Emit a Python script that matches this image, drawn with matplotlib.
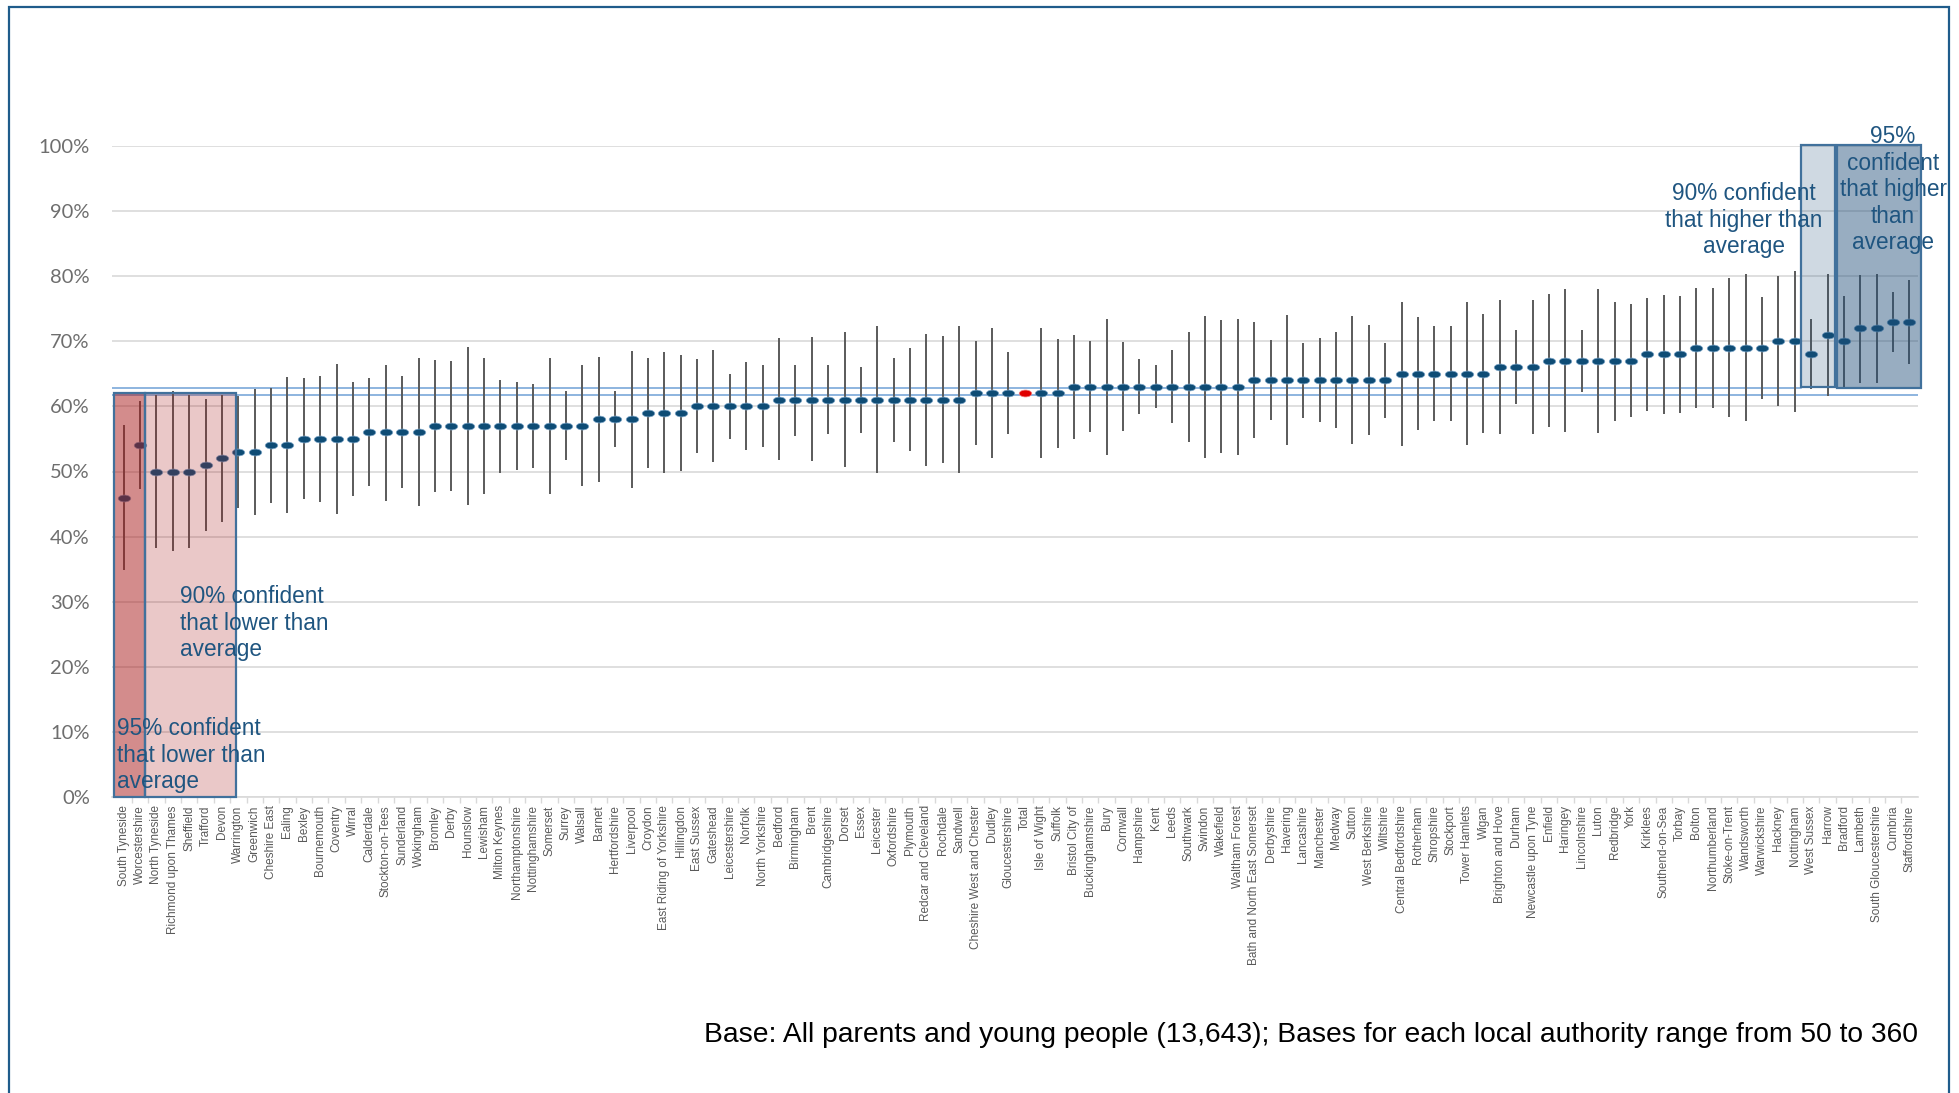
import matplotlib
matplotlib.use('Agg')
import numpy as np
import matplotlib.pyplot as plt
from matplotlib.path import Path
from matplotlib.transforms import Affine2D
from matplotlib.patches import Rectangle
from matplotlib.ticker import FixedLocator

names = ['South Tyneside', 'Worcestershire', 'North Tyneside', 'Richmond upon Thames', 'Sheffield',
         'Trafford', 'Devon', 'Warrington', 'Greenwich', 'Cheshire East', 'Ealing', 'Bexley',
         'Bournemouth', 'Coventry', 'Wirral', 'Calderdale', 'Stockton-on-Tees', 'Sunderland',
         'Wokingham', 'Bromley', 'Derby', 'Hounslow', 'Lewisham', 'Milton Keynes',
         'Northamptonshire', 'Nottinghamshire', 'Somerset', 'Surrey', 'Walsall', 'Barnet',
         'Hertfordshire', 'Liverpool', 'Croydon', 'East Riding of Yorkshire', 'Hillingdon',
         'East Sussex', 'Gateshead', 'Leicestershire', 'Norfolk', 'North Yorkshire', 'Bedford',
         'Birmingham', 'Brent', 'Cambridgeshire', 'Dorset', 'Essex', 'Leicester', 'Oxfordshire',
         'Plymouth', 'Redcar and Cleveland', 'Rochdale', 'Sandwell', 'Cheshire West and Chester',
         'Dudley', 'Gloucestershire', 'Total', 'Isle of Wight', 'Suffolk', 'Bristol City of',
         'Buckinghamshire', 'Bury', 'Cornwall', 'Hampshire', 'Kent', 'Leeds', 'Southwark',
         'Swindon', 'Wakefield', 'Waltham Forest', 'Bath and North East Somerset', 'Derbyshire',
         'Havering', 'Lancashire', 'Manchester', 'Medway', 'Sutton', 'West Berkshire', 'Wiltshire',
         'Central Bedfordshire', 'Rotherham', 'Shropshire', 'Stockport', 'Tower Hamlets', 'Wigan',
         'Brighton and Hove', 'Durham', 'Newcastle upon Tyne', 'Enfield', 'Haringey',
         'Lincolnshire', 'Luton', 'Redbridge', 'York', 'Kirklees', 'Southend-on-Sea', 'Torbay',
         'Bolton', 'Northumberland', 'Stoke-on-Trent', 'Wandsworth', 'Warwickshire', 'Hackney',
         'Nottingham', 'West Sussex', 'Harrow', 'Bradford', 'Lambeth', 'South Gloucestershire',
         'Cumbria', 'Staffordshire']

pct = [46, 54, 50, 50, 50, 51, 52, 53, 53, 54, 54, 55, 55, 55, 55, 56, 56, 56,
       56, 57, 57, 57, 57, 57, 57, 57, 57, 57, 57, 58, 58, 58, 59, 59, 59,
       60, 60, 60, 60, 60, 61, 61, 61, 61, 61, 61, 61, 61, 61, 61, 61, 61,
       62, 62, 62, 62, 62, 62, 63, 63, 63, 63, 63, 63, 63, 63, 63, 63, 63,
       64, 64, 64, 64, 64, 64, 64, 64, 64, 65, 65, 65, 65, 65, 65, 66, 66, 66,
       67, 67, 67, 67, 67, 67, 68, 68, 68, 69, 69, 69, 69, 69, 70, 70, 68, 71,
       70, 72, 72, 73, 73]

lo = [34.8, 47.3, 38.2, 37.8, 38.2, 40.8, 42.2, 44.4, 43.3, 45.2, 43.7, 45.7, 45.3, 43.4, 46.2,
      47.7, 45.5, 47.4, 44.7, 46.9, 47.0, 44.8, 46.5, 49.8, 50.3, 50.6, 46.6, 51.8, 47.8, 48.4,
      53.7, 47.5, 50.5, 49.8, 50.1, 52.8, 51.5, 55.0, 53.3, 53.8, 51.7, 55.5, 51.6, 55.8, 50.7,
      55.9, 49.8, 54.6, 53.1, 50.9, 51.3, 49.7, 54.0, 52.1, 55.8, 61.6, 52.0, 53.6, 55.0, 56.1,
      52.6, 56.2, 58.8, 59.7, 57.5, 54.6, 52.1, 52.9, 52.6, 55.1, 57.9, 54.0, 58.2, 57.6, 56.7,
      54.2, 55.6, 58.2, 53.9, 56.3, 57.8, 57.8, 54.0, 55.9, 55.8, 60.3, 55.8, 56.8, 56.1, 62.2,
      55.9, 57.8, 58.3, 59.3, 58.9, 59.0, 59.7, 59.7, 58.3, 57.7, 61.1, 60.0, 59.2, 62.6, 61.6,
      63.0, 63.6, 63.6, 68.4, 66.5]

hi = [57.1, 60.8, 61.8, 62.3, 61.8, 61.2, 61.8, 61.6, 62.7, 62.8, 64.5, 64.3, 64.6, 66.5, 63.8,
      64.3, 66.4, 64.6, 67.4, 67.1, 67.0, 69.2, 67.5, 64.1, 63.8, 63.5, 67.4, 62.3, 66.3, 67.6,
      62.4, 68.5, 67.5, 68.3, 67.9, 67.3, 68.6, 65.0, 66.8, 66.3, 70.5, 66.4, 70.6, 66.3, 71.4,
      66.1, 72.3, 67.4, 68.9, 71.1, 70.8, 72.3, 70.1, 72.0, 68.3, 62.4, 72.1, 70.4, 71.0, 70.0,
      73.4, 69.9, 67.3, 66.3, 68.6, 71.4, 73.9, 73.2, 73.4, 72.9, 70.2, 74.1, 69.8, 70.5, 71.4,
      73.9, 72.5, 69.8, 76.1, 73.8, 72.3, 72.3, 76.0, 74.2, 76.3, 71.7, 76.3, 77.3, 78.0, 71.8,
      78.1, 76.1, 75.7, 76.7, 77.1, 76.9, 78.2, 78.2, 79.7, 80.3, 76.8, 80.0, 80.8, 73.4, 80.3,
      76.9, 80.2, 80.3, 77.5, 79.4]

avg_upper = 62.85
avg_lower = 61.7

footer = ('Base: All parents and young people (13,643); '
          'Bases for each local authority range from 50 to 360')

W, H = 1959, 1093
plt.rcParams['font.family'] = ['Liberation Sans', 'DejaVu Sans']

fig = plt.figure(figsize=(W / 100, H / 100), dpi=100)
ax = fig.add_axes([112 / W, 1 - 797 / H, (1918 - 112) / W, (797 - 146) / H])

x = np.arange(len(names))
pct = np.array(pct, dtype=float)
is_total = np.array([n == 'Total' for n in names])

# error bars
ax.vlines(x, lo, hi, color='#5a5a5a', lw=1.4, zorder=3)

# estimate dots (flat ellipse)
ell = Path.unit_circle().transformed(Affine2D().scale(1, 0.55))
ax.plot(x[~is_total], pct[~is_total], ls='none', marker=ell, ms=9, color='#0E4C75',
        mec='#7FA7C9', mew=0.5, zorder=4)
ax.plot(x[is_total], pct[is_total], ls='none', marker=ell, ms=9, color='#E00000',
        mec='#F08080', mew=0.5, zorder=4)

# average band lines
ax.axhline(avg_upper, xmin=0, xmax=(102.35 + 0.71) / (109.52 + 0.71), color='#6FA0D6', lw=1.1, zorder=2)
ax.axhline(avg_lower, color='#6FA0D6', lw=1.1, zorder=2)

# significance boxes
red = (168 / 255, 26 / 255, 26 / 255)
navy = (31 / 255, 78 / 255, 121 / 255)
edge = '#41719C'
ax.add_patch(Rectangle((-0.59, 0), 1.87, 62, fc=red + (0.5,), ec=edge, lw=1.6, zorder=5, clip_on=False))
ax.add_patch(Rectangle((1.28, 0), 5.6, 62, fc=red + (0.24,), ec=edge, lw=1.6, zorder=5, clip_on=False))
ax.add_patch(Rectangle((102.35, 63.0), 2.1, 37.2, fc=navy + (0.21,), ec=edge, lw=1.6, zorder=5, clip_on=False))
ax.add_patch(Rectangle((104.6, 62.8), 5.1, 37.4, fc=navy + (0.46,), ec=edge, lw=1.6, zorder=5, clip_on=False))

# axes styling
ax.set_xlim(-0.71, 109.52)
ax.set_ylim(0, 100)
for s in ['top', 'right', 'left']:
    ax.spines[s].set_visible(False)
ax.spines['bottom'].set_color('#D9D9D9')
ax.spines['bottom'].set_linewidth(1.2)
ax.yaxis.grid(True, color='#D9D9D9', lw=1.2)
ax.set_axisbelow(True)

yt = list(range(0, 101, 10))
ax.set_yticks(yt)
ax.set_yticklabels([f'{v}%' for v in yt], fontsize=14.5, color='#6E6E6E', family=['Lato', 'DejaVu Sans'])
ax.tick_params(axis='y', length=0, pad=16)

ax.set_xticks(x)
ax.set_xticklabels(names, rotation=90, fontsize=8.5, color='#595959', va='top', ha='center')
ax.xaxis.set_minor_locator(FixedLocator(x[:-1] + 0.5))
ax.tick_params(axis='x', which='major', length=0, pad=6)
ax.tick_params(axis='x', which='minor', length=4, color='#D9D9D9', width=1)

# annotations
txt = dict(color='#1F5580', fontsize=16.3, linespacing=1.2)
fig.text(180 / W, 1 - 585 / H, '90% confident\nthat lower than\naverage', ha='left', va='top', **txt)
fig.text(117 / W, 1 - 717 / H, '95% confident\nthat lower than\naverage', ha='left', va='top', **txt)
fig.text(1744 / W, 1 - 182 / H, '90% confident\nthat higher than\naverage', ha='center', va='top', **txt)
fig.text(1893 / W, 1 - 125 / H, '95%\nconfident\nthat higher\nthan\naverage', ha='center', va='top', **txt)

fig.text(1918 / W, 1 - 1035 / H, footer, ha='right', va='center', fontsize=20.3, color='#000000')

# outer frame
fig.patches.append(Rectangle((9 / W, -0.05), (1949 - 9) / W, 1.05 - 7 / H, transform=fig.transFigure,
                             fill=False, ec='#1F5C8B', lw=1.6))

fig.savefig('out.png', dpi=100)
